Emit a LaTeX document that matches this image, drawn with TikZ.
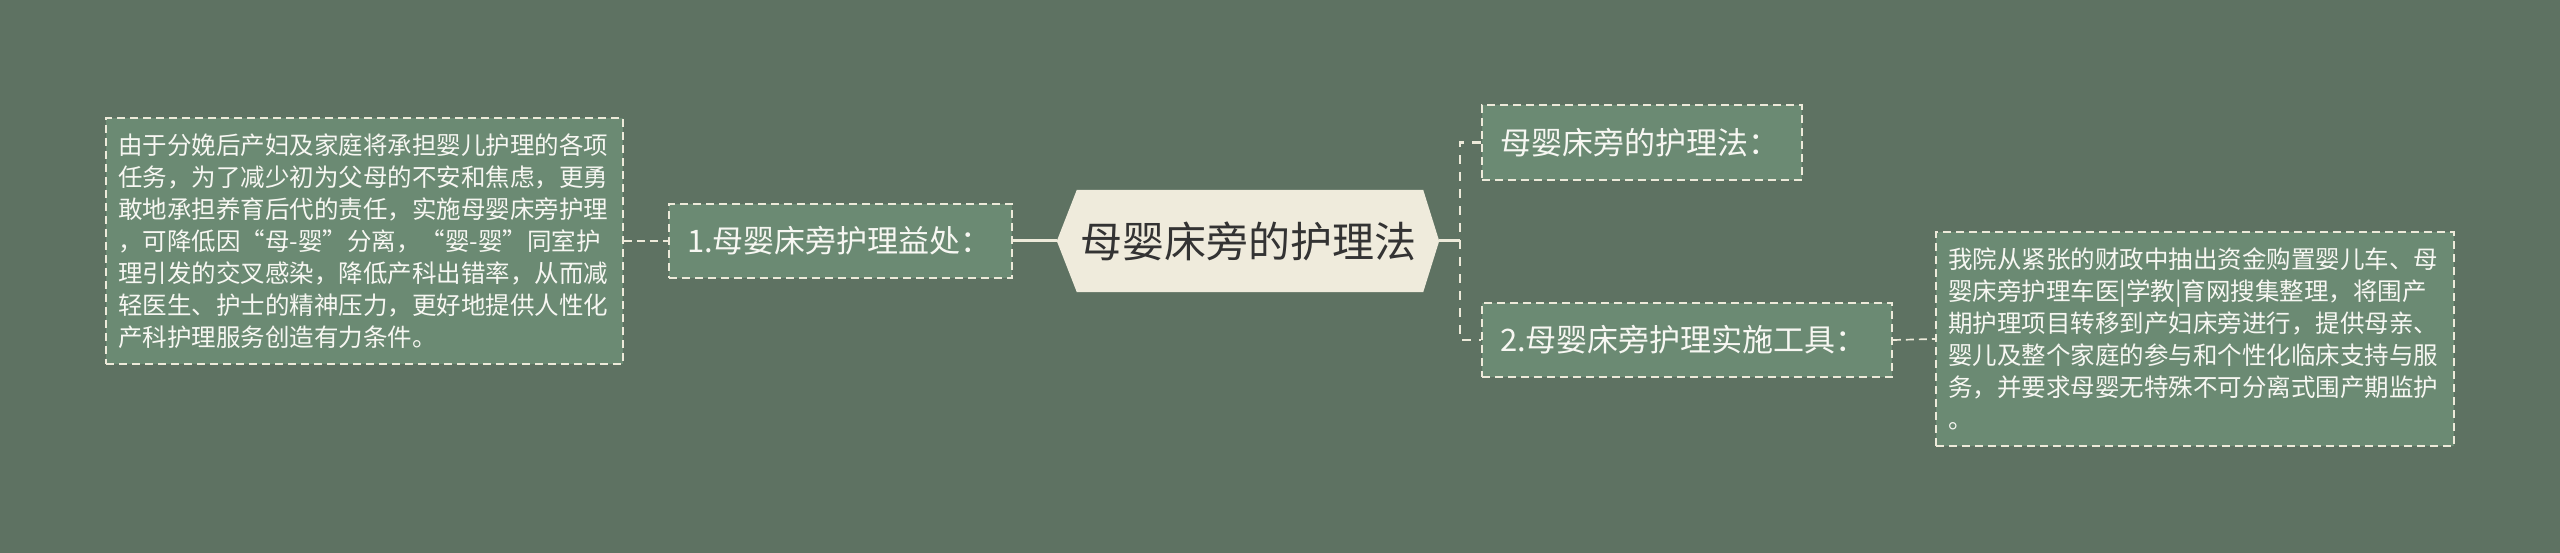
\documentclass[tikz,border=0pt]{standalone}
\usepackage{fontspec}
\setmainfont{Noto Sans CJK SC}
\definecolor{bgc}{HTML}{5E7262}
\definecolor{boxc}{HTML}{6B8A73}
\definecolor{creamc}{HTML}{EDEADA}
\definecolor{hexc}{HTML}{EFEBDC}
\definecolor{darkc}{HTML}{333333}
\definecolor{lightc}{HTML}{F7F7F2}
\begin{document}
\begin{tikzpicture}[x=1pt,y=-1pt,
  dbox/.style={draw=creamc, fill=boxc, line width=1.7pt, dash pattern=on 8pt off 5pt,
    text=lightc, align=left, inner ysep=0pt, anchor=center},
  leaf/.style={dbox, inner xsep=12pt, font=\fontsize{24.5pt}{32pt}\selectfont},
  lvl/.style={dbox, inner xsep=18pt, font=\fontsize{31pt}{36pt}\selectfont},
  hexsize/.style={inner sep=0pt, minimum width=382pt, minimum height=102pt},
  hextext/.style={text=darkc, font=\fontsize{42pt}{48pt}\selectfont, inner sep=0pt},
  solidconn/.style={draw=creamc, line width=3pt},
  thindash/.style={draw=creamc, line width=1.7pt, dash pattern=on 8pt off 5pt},
  bracket/.style={draw=creamc, line width=2.6pt, dash pattern=on 9pt off 8pt}
]
\fill[bgc] (0,0) rectangle (2560,553);
\useasboundingbox (0,0) rectangle (2560,553);

% central hexagon
\path node[hexsize] (hex) at (1248,241) {};
\fill[hexc] (hex.west) -- ([xshift=20pt]hex.north west) -- ([xshift=-16pt]hex.north east)
  -- (hex.east) -- ([xshift=-16pt]hex.south east) -- ([xshift=20pt]hex.south west) -- cycle;
\node[hextext] (hextitle) at (hex.center) {母婴床旁的护理法};

% left side
\node[lvl, text width=307pt, minimum height=74pt] (b1) at (840.5,241) {1.母婴床旁护理益处：};
\node[leaf, text width=493pt, minimum height=246pt] (lbox) at (364.5,241)
 {由于分娩后产妇及家庭将承担婴儿护理的各项\\
  任务，为了减少初为父母的不安和焦虑，更勇\\
  敢地承担养育后代的责任，实施母婴床旁护理\\
  ，可降低因“母-婴”分离，“婴-婴”同室护\\
  理引发的交叉感染，降低产科出错率，从而减\\
  轻医生、护士的精神压力，更好地提供人性化\\
  产科护理服务创造有力条件。};

% right side
\node[lvl, text width=284pt, minimum height=75pt] (tr) at (1642,142.5) {母婴床旁的护理法：};
\node[lvl, text width=374pt, minimum height=74pt] (b2) at (1687,340) {2.母婴床旁护理实施工具：};
\node[leaf, text width=494pt, minimum height=214pt] (rbox) at (2195,339)
 {我院从紧张的财政中抽出资金购置婴儿车、母\\
  婴床旁护理车医|学教|育网搜集整理，将围产\\
  期护理项目转移到产妇床旁进行，提供母亲、\\
  婴儿及整个家庭的参与和个性化临床支持与服\\
  务，并要求母婴无特殊不可分离式围产期监护\\
  。};

% connectors
\coordinate (jr) at (1460,241);
\draw[solidconn] (b1.east) -- (hex.west);
\draw[thindash] (lbox.east) -- (b1.west);
\draw[solidconn] (hex.east) -- (jr);
\draw[bracket] (tr.west) -- (tr.west -| jr) -- (b2.west -| jr) -- (b2.west);
\draw[thindash] (b2.east) -- (rbox.west);
\end{tikzpicture}
\end{document}
